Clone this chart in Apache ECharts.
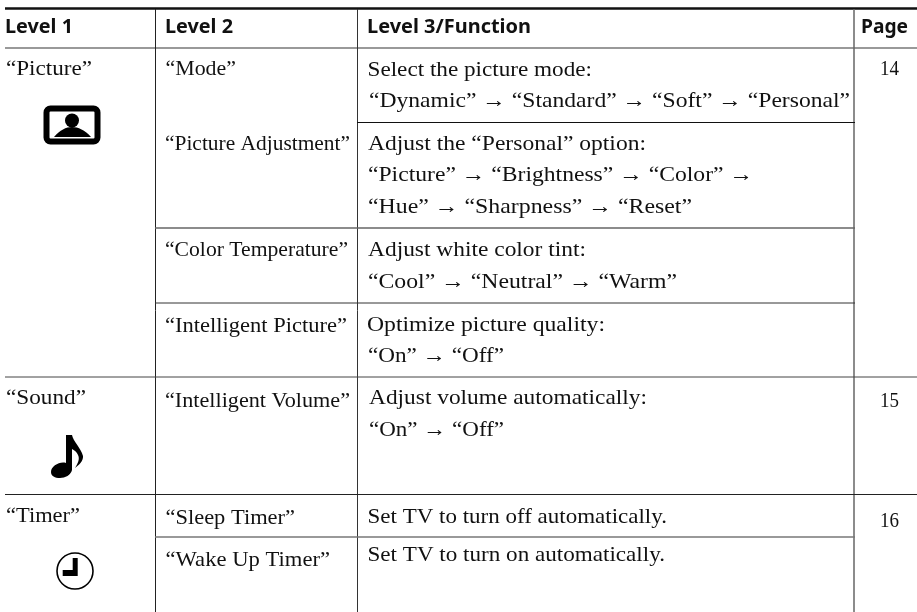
<!DOCTYPE html>
<html><head><meta charset="utf-8">
<style>html,body{margin:0;padding:0;background:#fff}#c{width:917px;height:612px}</style>
<script src="https://cdn.jsdelivr.net/npm/echarts@6/dist/echarts.min.js"></script>
</head><body><div id="c"></div><script>
const headers = ['Level 1','Level 2','Level 3/Function','Page'];
const level1 = ['“Picture”','“Sound”','“Timer”'];
const level2 = ['“Mode”','“Picture Adjustment”','“Color Temperature”','“Intelligent Picture”','“Intelligent Volume”','“Sleep Timer”','“Wake Up Timer”'];
const level3 = [
 'Select the picture mode:','“Dynamic” → “Standard” → “Soft” → “Personal”',
 'Adjust the “Personal” option:','“Picture” → “Brightness” → “Color” →','“Hue” → “Sharpness” → “Reset”',
 'Adjust white color tint:','“Cool” → “Neutral” → “Warm”',
 'Optimize picture quality:','“On” → “Off”',
 'Adjust volume automatically:','“On” → “Off”',
 'Set TV to turn off automatically.','Set TV to turn on automatically.'];
const pages = ['14','15','16'];

// layout (separate from the content): [left, right, baseline]
const headerBox = [[5,73,33],[165,233,33],[367,531,33],[861,908,33]];
const level1Box = [[6,92,76],[6,86,405],[6,80,523]];
const level2Box = [[165.5,236,76],[165,350,151],[165,348,257],[165,347,333],[165,350,408],[165.5,295,525],[165.5,330,567]];
const level3Box = [[367.5,592,77],[369,850,108],[368,646,151],[368,753,182],[368,692,214],[368,586,257],[368,677,289],[367,605,332],[368,504,363],[369,647,405],[369,504,437],[367.5,667,524],[367.5,665,562]];
const pageBox = [[880,899,76],[880,899,408],[880,899,528]];

const SERIF = '"Liberation Serif", serif', SANS = '"Noto Sans", sans-serif';
const SERIF_SIZE = 21, SANS_SIZE = 20;
const rows = [];
const add = (txt, box, family, size, weight) => txt.forEach((t,i)=>rows.push({t, b:box[i], font: weight+' '+size+'px '+family, size}));
add(headers, headerBox, SANS, SANS_SIZE, 700);
add(level1, level1Box, SERIF, SERIF_SIZE, 400);
add(level2, level2Box, SERIF, SERIF_SIZE, 400);
add(level3, level3Box, SERIF, SERIF_SIZE, 400);
add(pages, pageBox, SERIF, SERIF_SIZE, 400);

const lines = [
 [5,8.5,917,8.5,2.5,'#111'],[5,48,917,48,1.5,'#777'],
 [155.5,9,155.5,612,1,'#222'],[357.5,9,357.5,612,1,'#333'],[854,9,854,612,1.5,'#666'],
 [357,122.5,855,122.5,1,'#111'],[155,228,855,228,1.5,'#666'],[155,303,855,303,1,'#333'],
 [5,377,917,377,1,'#444'],[5,494.5,917,494.5,1,'#222'],[155,537,855,537,1.5,'#777']
];
const iconNames = ['picture','sound','timer'];
function iconChildren(name){
 if(name==='picture') return [
  {type:'rect',shape:{x:46.5,y:108.5,width:51,height:33,r:4},style:{fill:'#fff',stroke:'#000',lineWidth:6}},
  {type:'circle',shape:{cx:72,cy:120.5,r:7},style:{fill:'#000'}},
  {type:'path',shape:{pathData:'M54 137 C60 130 66 127 72 127 C78 127 85 130 91 137 Z'},style:{fill:'#000'}}];
 if(name==='sound') return [
  {type:'path',shape:{pathData:'M66 474 L66 435 L72 435 C73 441 81 448 83 456 C83.5 461 79 465 75 468 C78 463 80 459 78 455 C77 452 74 450 72 449 L72 470 C71 475 65 478 60 478 C55 478 51 476 51 472 C51 466 60 461 66 463 Z'},style:{fill:'#000'}}];
 return [
  {type:'circle',shape:{cx:75,cy:571,r:18},style:{fill:'none',stroke:'#000',lineWidth:1.6}},
  {type:'polygon',shape:{points:[[72.7,558],[77.7,558],[77.7,576],[62.7,576],[62.7,570],[72.7,570]]},style:{fill:'#000'}}];
}
const meas = document.createElement('canvas').getContext('2d');
const chart = echarts.init(document.getElementById('c'),null,{renderer:'canvas'});
chart.setOption({
 animation:false,
 grid:{left:0,right:0,top:0,bottom:0},
 xAxis:{type:'value',min:0,max:917,show:false},
 yAxis:{type:'value',min:0,max:612,inverse:true,show:false},
 series:[
  {type:'custom',coordinateSystem:'cartesian2d',data:lines,silent:true,clip:false,
   encode:{x:[0,2],y:[1,3]},
   renderItem(p,api){const a=api.coord([api.value(0),api.value(1)]),b=api.coord([api.value(2),api.value(3)]);
    const w=lines[p.dataIndex];
    return {type:'line',shape:{x1:a[0],y1:a[1],x2:b[0],y2:b[1]},style:{stroke:w[5],lineWidth:w[4]}};}},
  {type:'custom',coordinateSystem:'cartesian2d',data:iconNames.map((n,i)=>[i,0]),silent:true,clip:false,
   renderItem(p){return {type:'group',children:iconChildren(iconNames[p.dataIndex])};}},
  {type:'custom',coordinateSystem:'cartesian2d',data:rows.map(r=>[r.b[0],r.b[2]]),silent:true,clip:false,
   renderItem(p,api){const r=rows[p.dataIndex],a=api.coord([api.value(0),api.value(1)]);
    meas.font=r.font;
    const sx=(r.b[1]-r.b[0])/meas.measureText(r.t).width;
    return {type:'text',x:a[0],y:a[1]-r.size*0.31,scaleX:sx,style:{text:r.t,fill:'#111',font:r.font,textAlign:'left',textVerticalAlign:'middle'}};}}
 ]
});
</script></body></html>
